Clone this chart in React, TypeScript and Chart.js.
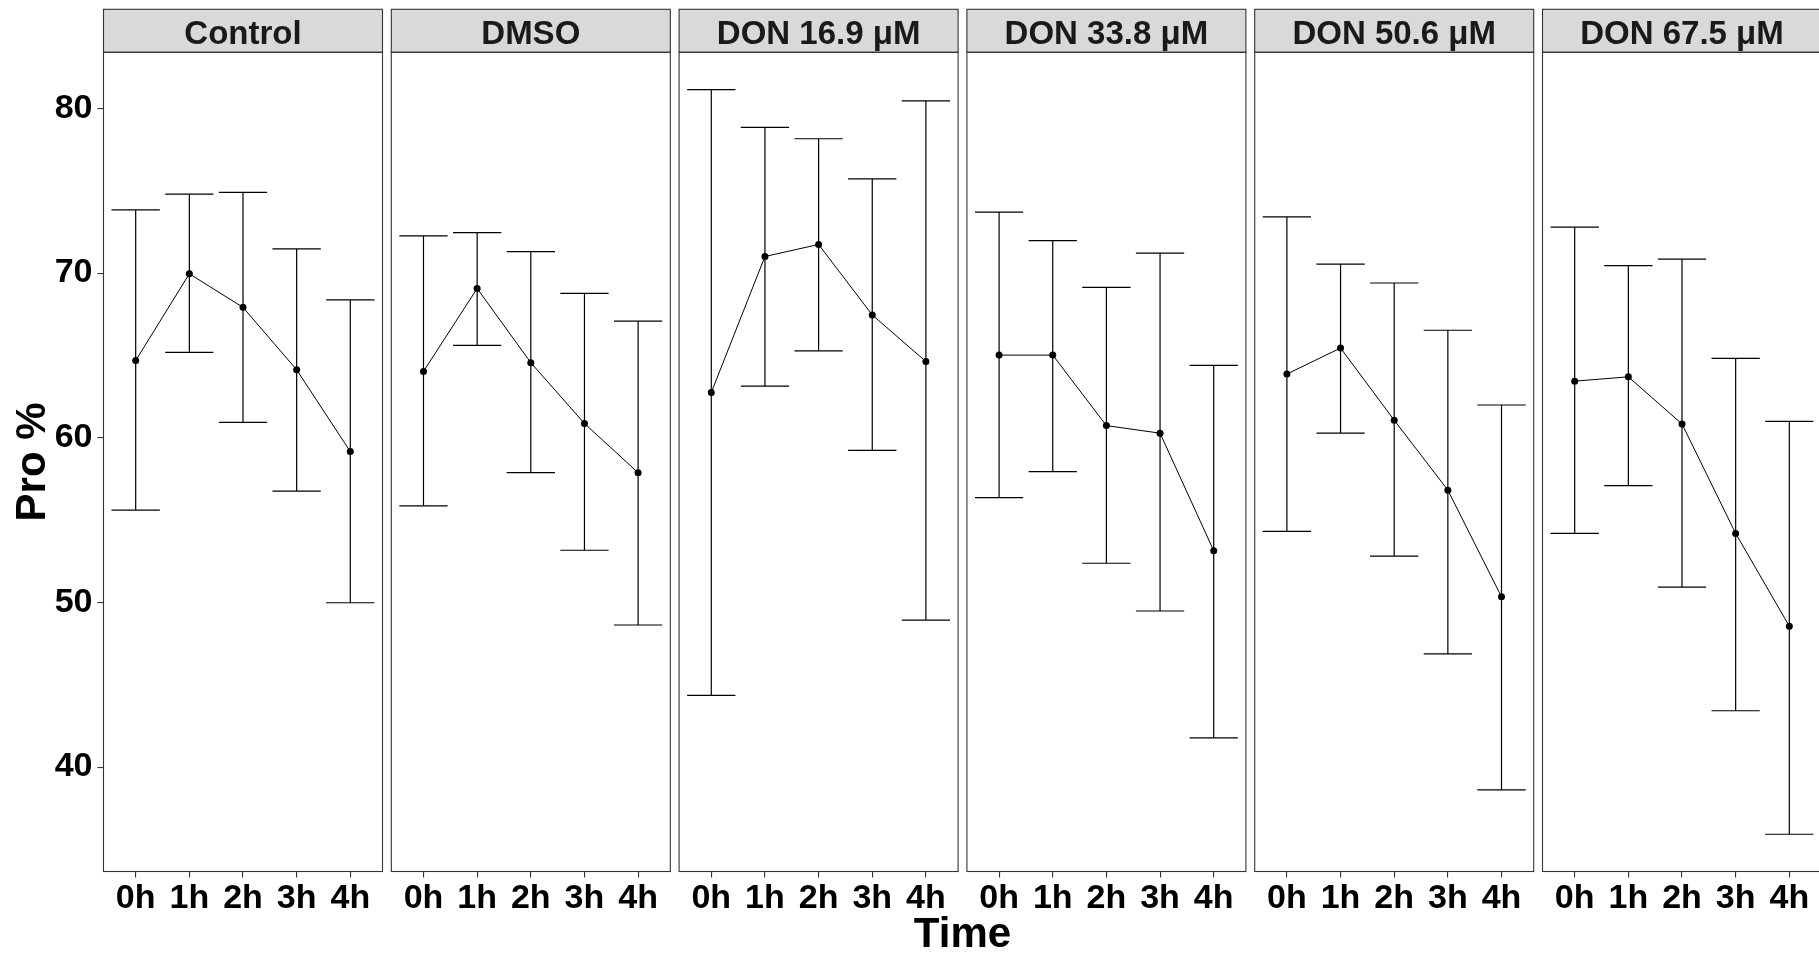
import React, { useEffect, useRef } from "react";
import { Chart, registerables } from "chart.js";

Chart.register(...registerables);

// ---------- data ----------
const panelNames = ["Control", "DMSO", "DON 16.9 μM", "DON 33.8 μM", "DON 50.6 μM", "DON 67.5 μM"];
const timeLabels = ["0h", "1h", "2h", "3h", "4h"];
const yTickValues = [40, 50, 60, 70, 80];

const controlMean = [64.69, 69.96, 67.92, 64.13, 59.16];
const controlUpper = [73.84, 74.8, 74.9, 71.47, 68.38];
const controlLower = [55.61, 65.19, 60.94, 56.76, 49.98];

const dmsoMean = [64.03, 69.07, 64.56, 60.87, 57.88];
const dmsoUpper = [72.26, 72.46, 71.31, 68.77, 67.09];
const dmsoLower = [55.87, 65.61, 57.88, 53.17, 48.63];

const don169Mean = [62.75, 71.01, 71.74, 67.46, 64.63];
const don169Upper = [81.15, 78.85, 78.16, 75.72, 80.46];
const don169Lower = [44.35, 63.14, 65.28, 59.23, 48.92];

const don338Mean = [65.02, 65.02, 60.74, 60.28, 53.14];
const don338Upper = [73.71, 71.97, 69.14, 71.21, 64.4];
const don338Lower = [56.36, 57.94, 52.38, 49.48, 41.78];

const don506Mean = [63.87, 65.45, 61.07, 56.82, 50.34];
const don506Upper = [73.42, 70.55, 69.4, 66.53, 61.99];
const don506Lower = [54.32, 60.28, 52.81, 46.88, 38.62];

const don675Mean = [63.44, 63.7, 60.84, 54.19, 48.56];
const don675Upper = [72.79, 70.45, 70.85, 64.82, 61.0];
const don675Lower = [54.19, 57.09, 50.93, 43.42, 35.92];

const means = [controlMean, dmsoMean, don169Mean, don338Mean, don506Mean, don675Mean];
const uppers = [controlUpper, dmsoUpper, don169Upper, don338Upper, don506Upper, don675Upper];
const lowers = [controlLower, dmsoLower, don169Lower, don338Lower, don506Lower, don675Lower];

// ---------- layout ----------
const W = 1819;
const H = 955;
const PANEL_X0 = 103.5;
const PANEL_STEP = 287.8;
const PANEL_W = 279;
const PLOT_TOP = 52.3;
const PLOT_BOTTOM = 871.5;
const STRIP_TOP = 9.3;
const FONT = '"Liberation Sans", Arial, Helvetica, sans-serif';

const allLow = Math.min(...lowers.flat());
const allHigh = Math.max(...uppers.flat());
const span = allHigh - allLow;
const Y_MIN = allLow - span * 0.05;
const Y_MAX = allHigh + span * 0.05;

const errorBarPlugin = (upper: number[], lower: number[]) => ({
  id: "errorBars",
  beforeDatasetsDraw(chart: any) {
    const { ctx } = chart;
    const x = chart.scales.x;
    const y = chart.scales.y;
    const hw = x.getPixelForValue(0.45) - x.getPixelForValue(0);
    ctx.save();
    ctx.strokeStyle = "#000";
    ctx.lineWidth = 1.2;
    upper.forEach((u, i) => {
      const px = x.getPixelForValue(i);
      const pu = y.getPixelForValue(u);
      const pl = y.getPixelForValue(lower[i]);
      ctx.beginPath();
      ctx.moveTo(px, pu);
      ctx.lineTo(px, pl);
      ctx.moveTo(px - hw, pu);
      ctx.lineTo(px + hw, pu);
      ctx.moveTo(px - hw, pl);
      ctx.lineTo(px + hw, pl);
      ctx.stroke();
    });
    ctx.restore();
  },
});

const stripPlugin = (label: string) => ({
  id: "strip",
  afterDraw(chart: any) {
    const { ctx, chartArea } = chart;
    const { left, right, top, bottom } = chartArea;
    ctx.save();
    ctx.fillStyle = "#d9d9d9";
    ctx.fillRect(left, STRIP_TOP, right - left, top - STRIP_TOP);
    ctx.strokeStyle = "#333333";
    ctx.lineWidth = 1.1;
    ctx.strokeRect(left, STRIP_TOP, right - left, top - STRIP_TOP);
    ctx.strokeRect(left, top, right - left, bottom - top);
    ctx.fillStyle = "#1a1a1a";
    ctx.font = `bold 33px ${FONT}`;
    ctx.textAlign = "center";
    ctx.textBaseline = "alphabetic";
    ctx.fillText(label, (left + right) / 2, 44);
    ctx.restore();
  },
});

function Panel({ index }: { index: number }) {
  const ref = useRef<HTMLCanvasElement>(null);
  const panelLeft = PANEL_X0 + PANEL_STEP * index;
  const canvasLeft = index === 0 ? 0 : Math.floor(panelLeft) - 4;
  const canvasRight = Math.ceil(panelLeft + PANEL_W) + 4;
  const cw = canvasRight - canvasLeft;

  useEffect(() => {
    if (!ref.current) return;
    const mean = means[index];
    const chart = new Chart(ref.current, {
      type: "line",
      data: {
        datasets: [
          {
            data: mean.map((v, i) => ({ x: i, y: v })),
            borderColor: "#000",
            borderWidth: 1,
            pointRadius: 3.5,
            pointBackgroundColor: "#000",
            pointBorderWidth: 0,
            pointHoverRadius: 3.5,
            tension: 0,
            fill: false,
          },
        ],
      },
      options: {
        responsive: false,
        animation: false,
        devicePixelRatio: 1,
        layout: {
          padding: {
            left: index === 0 ? 0 : panelLeft - canvasLeft,
            right: cw - (panelLeft - canvasLeft + PANEL_W),
            top: PLOT_TOP,
            bottom: 0,
          },
        },
        plugins: {
          legend: { display: false },
          tooltip: { enabled: false },
          title: { display: false },
        },
        scales: {
          x: {
            type: "linear",
            min: -0.6,
            max: 4.6,
            afterBuildTicks: (s: any) => {
              s.ticks = timeLabels.map((_, i) => ({ value: i }));
            },
            afterFit: (s: any) => {
              s.height = H - PLOT_BOTTOM;
            },
            ticks: {
              callback: (v: any) => timeLabels[v as number] ?? "",
              font: { family: FONT, size: 34, weight: "bold", lineHeight: 1 },
              color: "#000",
              padding: 4.5,
              maxRotation: 0,
              minRotation: 0,
              autoSkip: false,
            },
            grid: {
              drawOnChartArea: false,
              drawTicks: true,
              tickLength: 6,
              color: "#333333",
              lineWidth: 1.1,
            },
            border: { display: false },
          },
          y: {
            type: "linear",
            min: Y_MIN,
            max: Y_MAX,
            afterBuildTicks: (s: any) => {
              s.ticks = yTickValues.map((v) => ({ value: v }));
            },
            afterFit: (s: any) => {
              s.width = index === 0 ? panelLeft : 0;
            },
            ticks: {
              display: index === 0,
              font: { family: FONT, size: 34, weight: "bold" },
              color: "#000",
              padding: 5,
            },
            grid: {
              display: index === 0,
              drawOnChartArea: false,
              drawTicks: true,
              tickLength: 6,
              color: "#333333",
              lineWidth: 1.1,
            },
            border: { display: false },
            title: {
              display: index === 0,
              text: "Pro %",
              color: "#000",
              font: { family: FONT, size: 42, weight: "bold" },
              padding: { top: 8, bottom: 0 },
            },
          },
        },
      },
      plugins: [errorBarPlugin(uppers[index], lowers[index]), stripPlugin(panelNames[index])],
    } as any);
    return () => chart.destroy();
  }, [index]);

  return (
    <canvas
      ref={ref}
      width={cw}
      height={H}
      style={{ position: "absolute", left: canvasLeft, top: 0, width: cw, height: H }}
    />
  );
}

export default function App() {
  return (
    <div
      style={{
        position: "fixed",
        left: 0,
        top: 0,
        width: W,
        height: H,
        overflow: "hidden",
        background: "#fff",
      }}
    >
      {panelNames.map((_, i) => (
        <Panel key={i} index={i} />
      ))}
      <div
        style={{
          position: "absolute",
          left: PANEL_X0 + (PANEL_STEP * 5 + PANEL_W) / 2 - 200,
          width: 400,
          top: 912.4,
          textAlign: "center",
          fontFamily: FONT,
          fontWeight: "bold",
          fontSize: 42,
          lineHeight: "42px",
          color: "#000",
        }}
      >
        Time
      </div>
    </div>
  );
}
